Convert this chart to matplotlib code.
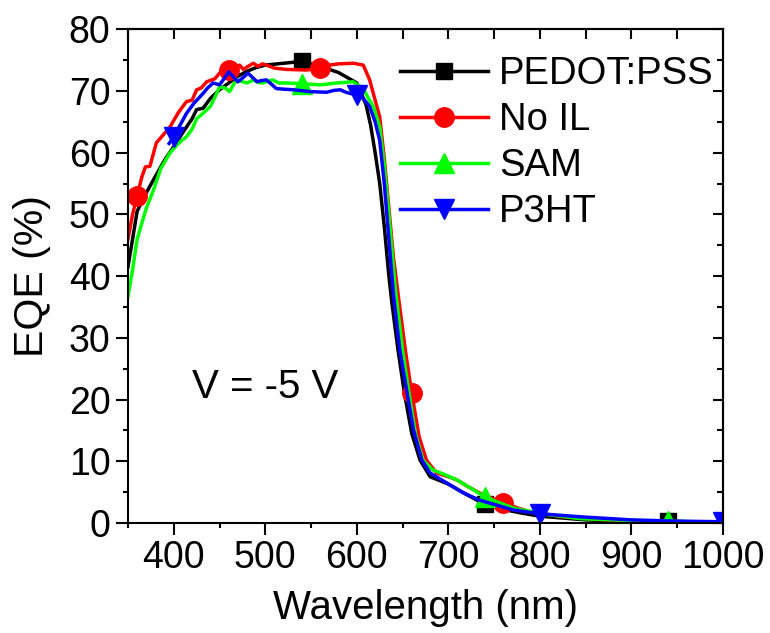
import matplotlib as mpl
mpl.use('Agg')
import matplotlib.pyplot as plt
from matplotlib.ticker import MultipleLocator

plt.rcParams['font.family'] = ['Liberation Sans', 'DejaVu Sans']

# PEDOT:PSS
pedot_x = [350, 360, 370, 380, 390, 400, 410, 420, 425, 432, 440, 450, 460, 470, 480,
           490, 500, 520, 540, 560, 580, 600, 610, 615, 620, 625, 630, 635, 638, 645,
           652, 660, 669, 680, 690, 700, 720, 740, 760, 780, 800, 850, 900, 940, 1000]
pedot_y = [41.5, 50.5, 53.5, 56.2, 58.8, 61.0, 63.3, 65.5, 67.0, 67.2, 68.8, 70.2, 71.3,
           72.4, 73.2, 73.8, 74.2, 74.5, 74.8, 74.0, 73.0, 71.3, 67.8, 64.5, 60.0, 55.0,
           48.0, 40.0, 36.0, 28.0, 21.0, 14.5, 10.2, 7.5, 6.9, 6.3, 4.6, 3.0, 2.2, 1.6,
           1.1, 0.5, 0.3, 0.25, 0.1]

# No IL
noil_x = [350, 355, 360, 365, 369, 374, 378, 381, 388, 396, 405, 414, 420, 425, 430,
          436, 445, 450, 455, 460, 465, 468, 472, 476, 480, 487, 492, 497, 505, 510,
          523, 545, 560, 570, 580, 596, 607, 614, 620, 625, 630, 635, 640, 646, 653,
          660, 668, 676, 687, 700, 709, 720, 735, 760, 789, 825, 870, 920, 1000]
noil_y = [46.0, 50.0, 53.0, 56.0, 57.7, 57.8, 60.0, 61.6, 62.8, 64.2, 66.5, 68.3, 68.5,
          70.2, 70.5, 71.5, 72.0, 72.9, 73.8, 73.4, 72.3, 73.8, 74.2, 73.5, 73.9, 74.5,
          74.0, 74.4, 74.0, 73.7, 73.5, 73.4, 73.7, 74.2, 74.4, 74.5, 74.2, 71.8, 68.5,
          65.8, 59.0, 51.0, 43.0, 36.0, 28.0, 21.0, 14.0, 10.2, 8.1, 7.5, 7.0, 6.0, 4.8,
          3.2, 1.8, 1.0, 0.5, 0.3, 0.1]

# SAM
sam_x = [350, 355, 360, 370, 378, 386, 396, 405, 414, 420, 425, 432, 440, 445, 450,
         456, 461, 465, 469, 475, 480, 487, 492, 497, 503, 508, 515, 523, 540, 560,
         578, 596, 607, 612, 618, 625, 630, 635, 642, 650, 657, 664, 672, 683, 695,
         709, 725, 740, 771, 807, 844, 900, 940, 1000]
sam_y = [36.7, 41.0, 46.0, 51.0, 54.0, 57.5, 60.0, 61.5, 62.6, 63.8, 65.5, 66.4, 67.5,
         69.0, 70.7, 70.5, 69.9, 71.0, 71.8, 71.5, 71.3, 71.8, 71.4, 71.3, 71.6, 71.8,
         71.3, 71.3, 71.2, 71.0, 71.3, 71.5, 70.4, 69.0, 67.5, 64.2, 58.0, 50.0, 38.0,
         28.0, 21.0, 14.5, 10.2, 8.6, 7.9, 7.0, 5.6, 4.2, 2.4, 1.4, 0.7, 0.4, 0.3, 0.1]

# P3HT
p3ht_x = [395, 400, 407, 414, 422, 432, 437, 443, 450, 455, 460, 465, 470, 476, 481,
          486, 491, 496, 501, 506, 512, 520, 531, 549, 567, 575, 582, 588, 593, 600,
          607, 614, 620, 625, 630, 635, 640, 647, 655, 662, 671, 680, 698, 716, 734,
          771, 800, 844, 900, 950, 1000]
p3ht_y = [61.5, 62.6, 64.5, 66.4, 68.0, 69.6, 70.5, 71.3, 71.0, 72.0, 73.1, 72.3, 71.5,
          72.2, 72.9, 72.2, 71.5, 71.7, 71.8, 71.2, 70.4, 70.3, 70.2, 69.9, 69.8, 70.1,
          70.2, 69.8, 69.6, 69.4, 68.8, 67.5, 65.0, 62.0, 55.0, 46.0, 37.0, 28.0, 21.0,
          15.0, 10.2, 8.1, 6.5, 4.9, 3.7, 2.1, 1.5, 1.0, 0.5, 0.3, 0.2]

series = [
    ("PEDOT:PSS", pedot_x, pedot_y, 'black', 's', [540, 740, 940], 12),
    ("No IL", noil_x, noil_y, 'red', 'o', [360, 460, 560, 660, 760], 14),
    ("SAM", sam_x, sam_y, '#00ff00', '^', [540, 740, 940], 14),
    ("P3HT", p3ht_x, p3ht_y, 'blue', 'v', [400, 600, 800, 1000], 14),
]

fig = plt.figure(figsize=(7.7, 6.33), dpi=100)
ax = fig.add_axes([0.1662, 0.1738, 0.939 - 0.1662, 0.9537 - 0.1738])

for label, x, y, color, marker, marks, ms in series:
    idx = [x.index(w) for w in marks]
    ax.plot(x, y, color=color, lw=2.5, marker=marker, ms=ms, markevery=idx,
            label=label)

ax.set_xlim(350, 1000)
ax.set_ylim(0, 80)
ax.xaxis.set_major_locator(MultipleLocator(100))
ax.xaxis.set_minor_locator(MultipleLocator(50))
ax.yaxis.set_major_locator(MultipleLocator(10))
ax.yaxis.set_minor_locator(MultipleLocator(5))
ax.tick_params(which='major', direction='out', length=8.6, width=1.5,
               labelsize=27, pad=4)
ax.tick_params(which='minor', direction='out', length=3.6, width=1.5)
for s in ax.spines.values():
    s.set_linewidth(1.5)

top = ax.secondary_xaxis('top')
top.xaxis.set_major_locator(MultipleLocator(100))
top.xaxis.set_minor_locator(MultipleLocator(50))
top.tick_params(which='both', direction='in', length=7, width=1.5,
                labeltop=False)
top.spines['top'].set_linewidth(1.5)
right = ax.secondary_yaxis('right')
right.yaxis.set_major_locator(MultipleLocator(10))
right.yaxis.set_minor_locator(MultipleLocator(5))
right.tick_params(which='major', direction='in', length=7, width=1.5,
                  labelright=False)
right.tick_params(which='minor', direction='in', length=4.5, width=1.5)
right.spines['right'].set_linewidth(1.5)

ax.set_xlabel("Wavelength (nm)", fontsize=29)
ax.set_ylabel("EQE (%)", fontsize=29.5)
ax.xaxis.set_label_coords(0.5, -0.134)
ax.yaxis.set_label_coords(-0.13, 0.5)

ax.text(500, 22, "V = -5 V", fontsize=29, ha='center', va='center')

ax.legend(loc='upper right', frameon=False, fontsize=27.5, handlelength=2.3,
          handletextpad=0.3, labelspacing=0.26, borderaxespad=0.0,
          bbox_to_anchor=(1.01, 0.976))

fig.savefig("out.png", dpi=100)
